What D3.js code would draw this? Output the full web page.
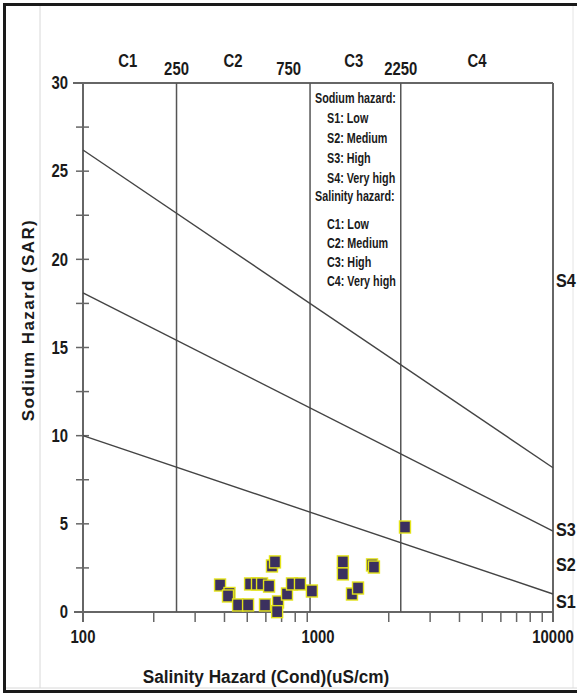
<!DOCTYPE html>
<html>
<head>
<meta charset="utf-8">
<script src="https://cdn.jsdelivr.net/npm/d3@7"></script>
<style>
  html, body { margin: 0; padding: 0; background: #fff; }
  svg { display: block; }
  text { font-family: 'Liberation Sans', Arial, sans-serif; font-weight: bold; fill: #1a1a1a; }
</style>
</head>
<body>
<script>
// ---- data ----
const condValues = [383, 420, 414, 457, 504, 514, 550, 578, 619, 595, 637, 656, 676, 670, 738, 775, 838, 942, 1276, 1276, 1395, 1480, 1698, 1730, 2345];
const sarValues  = [1.53, 1.05, 0.91, 0.40, 0.40, 1.59, 1.59, 1.59, 1.47, 0.40, 2.61, 2.84, 0.57, 0.02, 1.02, 1.59, 1.59, 1.19, 2.84, 2.16, 1.02, 1.36, 2.67, 2.55, 4.82];

const salinityBoundaries = [250, 925, 2250];
const boundaryLabels = ["250", "750", "2250"];
const boundaryLabelPos = [250, 750, 2250];
const classLabels = ["C1", "C2", "C3", "C4"];
const classLabelPos = [155, 435, 1420, 4750];

const sodiumLineStart = [10, 18.1, 26.2];   // SAR at 100 uS/cm
const sodiumLineEnd   = [1.02, 4.59, 8.18]; // SAR at 10000 uS/cm
const sodiumLabels = ["S1", "S2", "S3", "S4"];
const sodiumLabelPos = [0.62, 2.67, 4.65, 18.8];

const yTicks = [0, 2.5, 5, 7.5, 10, 12.5, 15, 17.5, 20, 22.5, 25, 27.5, 30];
const yTickLabels = [0, 5, 10, 15, 20, 25, 30];
const xMajorTicks = [100, 1000, 10000];
const xMinorTicks = [200, 300, 400, 500, 600, 700, 800, 900, 2000, 3000, 4000, 5000, 6000, 7000, 8000, 9000];

const legendSodium = ["Sodium hazard:", "S1: Low", "S2: Medium", "S3: High", "S4: Very high"];
const legendSalinity = ["Salinity hazard:", "C1: Low", "C2: Medium", "C3: High", "C4: Very high"];

// ---- layout ----
const W = 577, H = 695;
const svg = d3.select("body").append("svg").attr("width", W).attr("height", H);

const x = d3.scaleLog().domain([100, 10000]).range([83, 553]);
const y = d3.scaleLinear().domain([0, 30]).range([612, 83]);

// condensed text helper (real text, horizontally compressed)
function ntext(parent, px, py, str, size, anchor, sx, dy) {
  return parent.append("text")
    .attr("transform", `translate(${px},${py}) scale(${sx},1)`)
    .attr("text-anchor", anchor || "start")
    .attr("dy", dy || 0)
    .attr("font-size", size)
    .text(str);
}

// frame
svg.append("line").attr("x1", 40).attr("x2", 40).attr("y1", 6).attr("y2", 688).attr("stroke", "#d8d8d8").attr("stroke-width", 1);
svg.append("line").attr("x1", 573).attr("x2", 573).attr("y1", 6).attr("y2", 688).attr("stroke", "#e4e4e4").attr("stroke-width", 1);
svg.append("line").attr("x1", 4).attr("x2", W).attr("y1", 688).attr("y2", 688).attr("stroke", "#d8d8d8").attr("stroke-width", 1);
svg.append("path").attr("d", `M${W},4.5 H4.5 V691.5 H${W}`).attr("fill", "none").attr("stroke", "#1a1a1a").attr("stroke-width", 3);

const axisColor = "#666";
const lineColor = "#555";

const g = svg.append("g");
g.append("line").attr("x1", 73).attr("x2", x(10000)).attr("y1", y(30)).attr("y2", y(30)).attr("stroke", axisColor).attr("stroke-width", 2);
g.append("line").attr("x1", 74).attr("x2", x(10000)).attr("y1", y(0)).attr("y2", y(0)).attr("stroke", axisColor).attr("stroke-width", 2);
g.append("line").attr("x1", x(100)).attr("x2", x(100)).attr("y1", y(30)).attr("y2", y(0) + 10).attr("stroke", axisColor).attr("stroke-width", 2);
g.append("line").attr("x1", x(10000)).attr("x2", x(10000)).attr("y1", y(30)).attr("y2", y(0) + 10).attr("stroke", axisColor).attr("stroke-width", 2);

// y ticks
g.selectAll(".ytick").data(yTicks.filter(d => d > 0 && d < 30)).join("line")
  .attr("x1", 76).attr("x2", 89).attr("y1", d => y(d)).attr("y2", d => y(d))
  .attr("stroke", axisColor).attr("stroke-width", 1.5);
yTickLabels.forEach(d => ntext(g, 68, y(d), d, 17.5, "end", 0.85, "0.36em"));

// x ticks
g.selectAll(".xminor").data(xMinorTicks).join("line")
  .attr("x1", d => x(d)).attr("x2", d => x(d)).attr("y1", y(0)).attr("y2", y(0) + 10)
  .attr("stroke", axisColor).attr("stroke-width", 1.5);
xMajorTicks.forEach(d => ntext(g, x(d), 643, d, 17.5, "middle", 0.85));

// salinity boundaries
g.selectAll(".cb").data(salinityBoundaries).join("line")
  .attr("x1", d => x(d)).attr("x2", d => x(d)).attr("y1", y(30)).attr("y2", y(0))
  .attr("stroke", lineColor).attr("stroke-width", 1.5);
boundaryLabels.forEach((d, i) => ntext(g, x(boundaryLabelPos[i]), 75, d, 17.5, "middle", 0.85));
classLabels.forEach((d, i) => ntext(g, x(classLabelPos[i]), 67, d, 17.5, "middle", 0.85));

// sodium hazard lines
g.selectAll(".sl").data(sodiumLineStart).join("line")
  .attr("x1", x(100)).attr("y1", d => y(d))
  .attr("x2", x(10000)).attr("y2", (d, i) => y(sodiumLineEnd[i]))
  .attr("stroke", "#444").attr("stroke-width", 1.4);
sodiumLabels.forEach((d, i) => ntext(g, x(10000) + 3, y(sodiumLabelPos[i]), d, 18, "start", 0.9, "0.36em"));

// legend
const legX = 315, legIndent = 12;
legendSodium.forEach((d, i) => ntext(g, i === 0 ? legX : legX + legIndent, 98 + i * 19.9, d, 14, "start", 0.77, "0.36em"));
legendSalinity.forEach((d, i) => ntext(g, i === 0 ? legX : legX + legIndent, i === 0 ? 196 : 224 + (i - 1) * 19, d, 14, "start", 0.77, "0.36em"));

// axis titles
svg.append("text")
  .attr("transform", `translate(34,320) rotate(-90)`)
  .attr("text-anchor", "middle")
  .style("letter-spacing", "1.4px")
  .attr("fill", "#2a2a2a")
  .attr("font-size", 17).text("Sodium Hazard (SAR)");
ntext(svg, 266, 683, "Salinity Hazard (Cond)(uS/cm)", 18.5, "middle", 0.93);

// points
const pts = condValues.map((c, i) => ({ c, s: sarValues[i] }));
g.selectAll(".pt").data(pts).join("rect")
  .attr("x", d => x(d.c) - 5.5).attr("y", d => y(d.s) - 6)
  .attr("width", 11).attr("height", 12)
  .attr("fill", "#3b305f").attr("stroke", "#e3e31a").attr("stroke-width", 1.4);
</script>
</body>
</html>
